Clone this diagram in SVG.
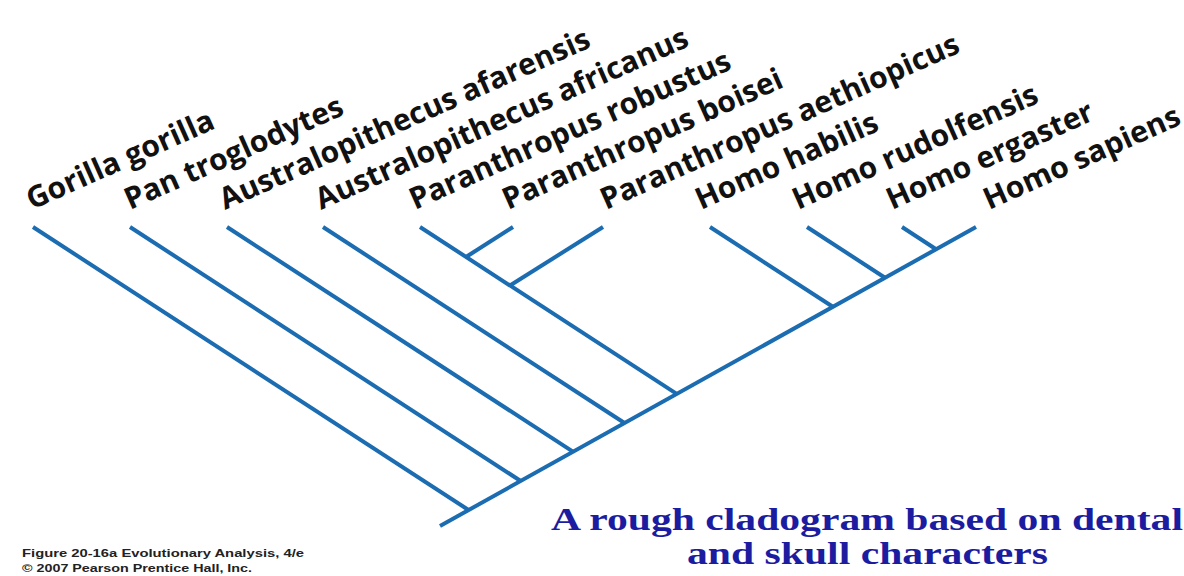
<svg xmlns="http://www.w3.org/2000/svg" width="1184" height="576" viewBox="0 0 1184 576">
<style>
.lbl{font-family:"Open Sans","Noto Sans",sans-serif;font-weight:700;font-size:30px;fill:#111}
.br{stroke:#1b6cb0;stroke-width:4;stroke-linecap:butt;fill:none}
.cap{font-family:"Liberation Serif","Times New Roman",serif;font-weight:700;font-size:31px;fill:#1c1ca0}
.foot{font-family:"Liberation Sans",Arial,sans-serif;font-weight:700;font-size:11px;fill:#222}
</style>
<rect width="1184" height="576" fill="#ffffff"/>
<g id="connectors">
<line class="br" x1="440" y1="526" x2="976" y2="227"/>
<line class="br" x1="33" y1="227" x2="468.5" y2="510"/>
<line class="br" x1="130" y1="227" x2="520.7" y2="481"/>
<line class="br" x1="227" y1="227" x2="572.9" y2="451.6"/>
<line class="br" x1="323" y1="227" x2="624.5" y2="423"/>
<line class="br" x1="420" y1="227" x2="676.7" y2="393.9"/>
<line class="br" x1="466" y1="257" x2="513" y2="227"/>
<line class="br" x1="510" y1="285.5" x2="603" y2="227"/>
<line class="br" x1="710" y1="227" x2="832.8" y2="306.8"/>
<line class="br" x1="807" y1="227" x2="885" y2="277.7"/>
<line class="br" x1="902" y1="227" x2="936.1" y2="249.2"/>
</g>
<g id="gorilla"><text class="lbl" transform="translate(32,210) rotate(-24)">Gorilla gorilla</text></g>
<g id="pan"><text class="lbl" transform="translate(130,210) rotate(-24)">Pan troglodytes</text></g>
<g id="afarensis"><text class="lbl" transform="translate(225,210) rotate(-24)">Australopithecus afarensis</text></g>
<g id="africanus"><text class="lbl" transform="translate(321,210) rotate(-24)">Australopithecus africanus</text></g>
<g id="robustus"><text class="lbl" transform="translate(415,210) rotate(-24)">Paranthropus robustus</text></g>
<g id="boisei"><text class="lbl" transform="translate(508,210) rotate(-24)">Paranthropus boisei</text></g>
<g id="aethiopicus"><text class="lbl" transform="translate(606,210) rotate(-24)">Paranthropus aethiopicus</text></g>
<g id="habilis"><text class="lbl" transform="translate(701,210) rotate(-24)">Homo habilis</text></g>
<g id="rudolfensis"><text class="lbl" transform="translate(798,210) rotate(-24)">Homo rudolfensis</text></g>
<g id="ergaster"><text class="lbl" transform="translate(892,210) rotate(-24)">Homo ergaster</text></g>
<g id="sapiens"><text class="lbl" transform="translate(989,210) rotate(-24)" textLength="212" lengthAdjust="spacingAndGlyphs">Homo sapiens</text></g>
<g id="caption">
<text class="cap" x="551" y="530" textLength="632" lengthAdjust="spacingAndGlyphs">A rough cladogram based on dental</text>
<text class="cap" x="687" y="564" textLength="361" lengthAdjust="spacingAndGlyphs">and skull characters</text>
</g>
<g id="footnote">
<text class="foot" x="22" y="557" textLength="282" lengthAdjust="spacingAndGlyphs">Figure 20-16a  Evolutionary Analysis, 4/e</text>
<text class="foot" x="22" y="572" textLength="230" lengthAdjust="spacingAndGlyphs">© 2007 Pearson Prentice Hall, Inc.</text>
</g>
</svg>
